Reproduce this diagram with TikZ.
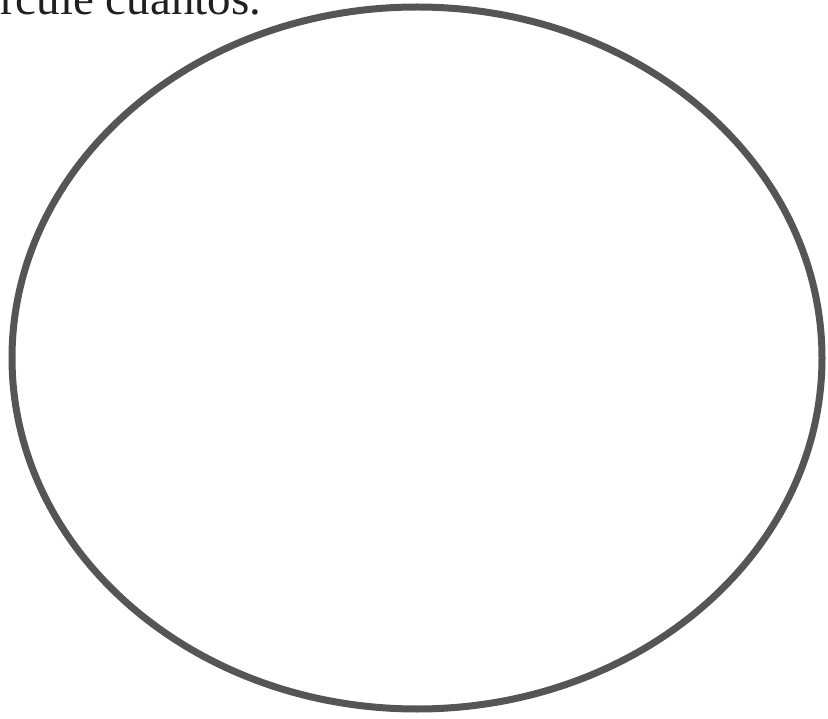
\documentclass[tikz,border=0pt]{standalone}
\usepackage{fontspec}
\setmainfont{Liberation Serif}
\definecolor{ringgray}{HTML}{555555}
\definecolor{textgray}{HTML}{202020}
\begin{document}
\begin{tikzpicture}[x=1pt,y=-1pt,
  ring/.style={draw=ringgray, line width=7pt},
  caption/.style={anchor=base west, inner sep=0pt, font=\fontsize{47}{52}\selectfont, text=textgray}]
\useasboundingbox (0,0) rectangle (828,719);
\clip (0,0) rectangle (828,719);
\node[caption] (label) at (0,15) {rcule cuántos.};
\draw[ring] (417,358) ellipse [x radius=405pt, y radius=351pt];
\end{tikzpicture}
\end{document}
